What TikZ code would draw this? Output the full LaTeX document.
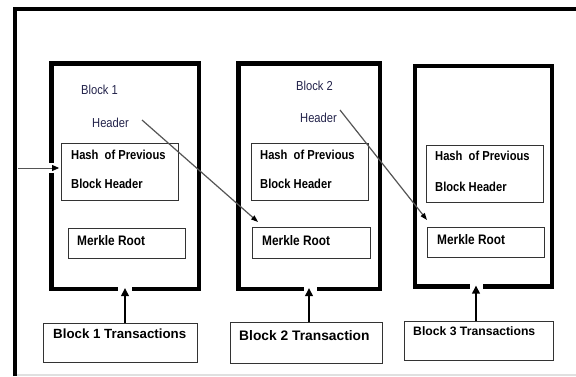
\documentclass[tikz,border=0pt]{standalone}
\usepackage{fontspec}
\setmainfont{Liberation Sans}
\newfontfamily\cnd[FakeStretch=0.86]{Liberation Sans}
\usetikzlibrary{arrows.meta}
\definecolor{hdr}{RGB}{35,35,75}
\definecolor{diag}{RGB}{85,85,85}
\begin{document}
\begin{tikzpicture}[x=1pt,y=-1pt,
  frame/.style={line width=4pt},
  blk/.style={line width=4.8pt},
  boxn/.style={draw=black!80,line width=0.9pt,inner sep=0pt},
  hdrtxt/.style={text=hdr,inner sep=0pt,anchor=west,font=\cnd\fontsize{13}{15}\selectfont},
  bt/.style={inner sep=0pt,anchor=west,font=\cnd\fontsize{13}{15}\selectfont\bfseries},
  uparr/.style={line width=2.8pt,-{Triangle[length=8pt,width=7.5pt]}},
  diagarr/.style={draw=diag,line width=1.2pt,-{Triangle[length=7pt,width=5pt,fill=black,color=black]}},
  thinarr/.style={draw=diag,line width=0.8pt,-{Triangle[length=7pt,width=6pt,fill=black,color=black]}}
]
\useasboundingbox (0,0) rectangle (576,376);
\fill[white] (0,0) rectangle (576,376);
% outer frame (top and left only)
\draw[frame,line join=miter] (15,376) -- (15,9) -- (576,9);
\draw[black!12,line width=1.5pt] (17,375) -- (576,375);
% blocks
\draw[blk] (132,289) -| (199,63.5) -| (51.5,163);
\draw[blk] (51.5,173) |- (118,289);
\draw[blk] (317,289) -| (380,63.5) -| (238.5,289) -- (304,289);
\draw[blk] (483,286.5) -| (552,66) -| (415,286.5) -- (470,286.5);
% inner boxes
\node[boxn,minimum width=117pt,minimum height=57pt] (hash1) at (119.5,171.5) {};
\node[boxn,minimum width=117pt,minimum height=57pt] (hash2) at (309.5,171.5) {};
\node[boxn,minimum width=117pt,minimum height=57pt] (hash3) at (484.5,173.5) {};
\node[boxn,minimum width=117pt,minimum height=30pt] (mr1) at (126.5,243) {};
\node[boxn,minimum width=118pt,minimum height=31pt] (mr2) at (311,242.5) {};
\node[boxn,minimum width=117pt,minimum height=30pt] (mr3) at (485.5,242) {};
\node[boxn,minimum width=154pt,minimum height=39pt] (t1) at (120,342.5) {};
\node[boxn,minimum width=152pt,minimum height=41pt] (t2) at (306,342.5) {};
\node[boxn,minimum width=149pt,minimum height=39pt] (t3) at (478.5,340.5) {};
% texts
\node[hdrtxt] (blk1) at (81,90) {Block 1};
\node[hdrtxt] (hd1) at (92,123) {Header};
\node[hdrtxt] (blk2) at (296,86) {Block 2};
\node[hdrtxt] (hd2) at (300,118) {Header};
\node[bt] (h1a) at (71,155) {Hash\ \ of Previous};
\node[bt] (h1b) at (71,184) {Block Header};
\node[bt] (h2a) at (260,155) {Hash\ \ of Previous};
\node[bt] (h2b) at (260,184) {Block Header};
\node[bt] (h3a) at (435,156) {Hash\ \ of Previous};
\node[bt] (h3b) at (435,187) {Block Header};
\node[bt,font=\cnd\fontsize{13.8}{15}\selectfont\bfseries] (m1) at (77,241) {Merkle Root};
\node[bt,font=\cnd\fontsize{13.8}{15}\selectfont\bfseries] (m2) at (262,241) {Merkle Root};
\node[bt,font=\cnd\fontsize{13.8}{15}\selectfont\bfseries] (m3) at (437,240) {Merkle Root};
\node[bt,font=\fontsize{13.3}{15}\selectfont\bfseries] (tt1) at (53,333.5) {Block 1 Transactions};
\node[bt,font=\fontsize{13.8}{15}\selectfont\bfseries] (tt2) at (239,336) {Block 2 Transaction};
\node[bt,font=\fontsize{12.2}{14}\selectfont\bfseries] (tt3) at (413,331.5) {Block 3 Transactions};
% connectors
\coordinate (b1in) at (125,288);
\coordinate (b2in) at (309,288);
\coordinate (b3in) at (476,285.5);
\draw[uparr] (t1.north -| b1in) -- (b1in);
\draw[uparr] (t2.north -| b2in) -- (b2in);
\draw[uparr] (t3.north -| b3in) -- (b3in);
\coordinate (d1s) at (142,120);
\coordinate (d1e) at (258,222);
\coordinate (d2s) at (340,110);
\coordinate (d2e) at (427,220);
\draw[diagarr] (d1s) -- (d1e);
\draw[diagarr] (d2s) -- (d2e);
\coordinate (lin) at (18,168);
\draw[thinarr] (lin) -- ([xshift=-1.5pt]hash1.west |- lin);
\end{tikzpicture}
\end{document}
